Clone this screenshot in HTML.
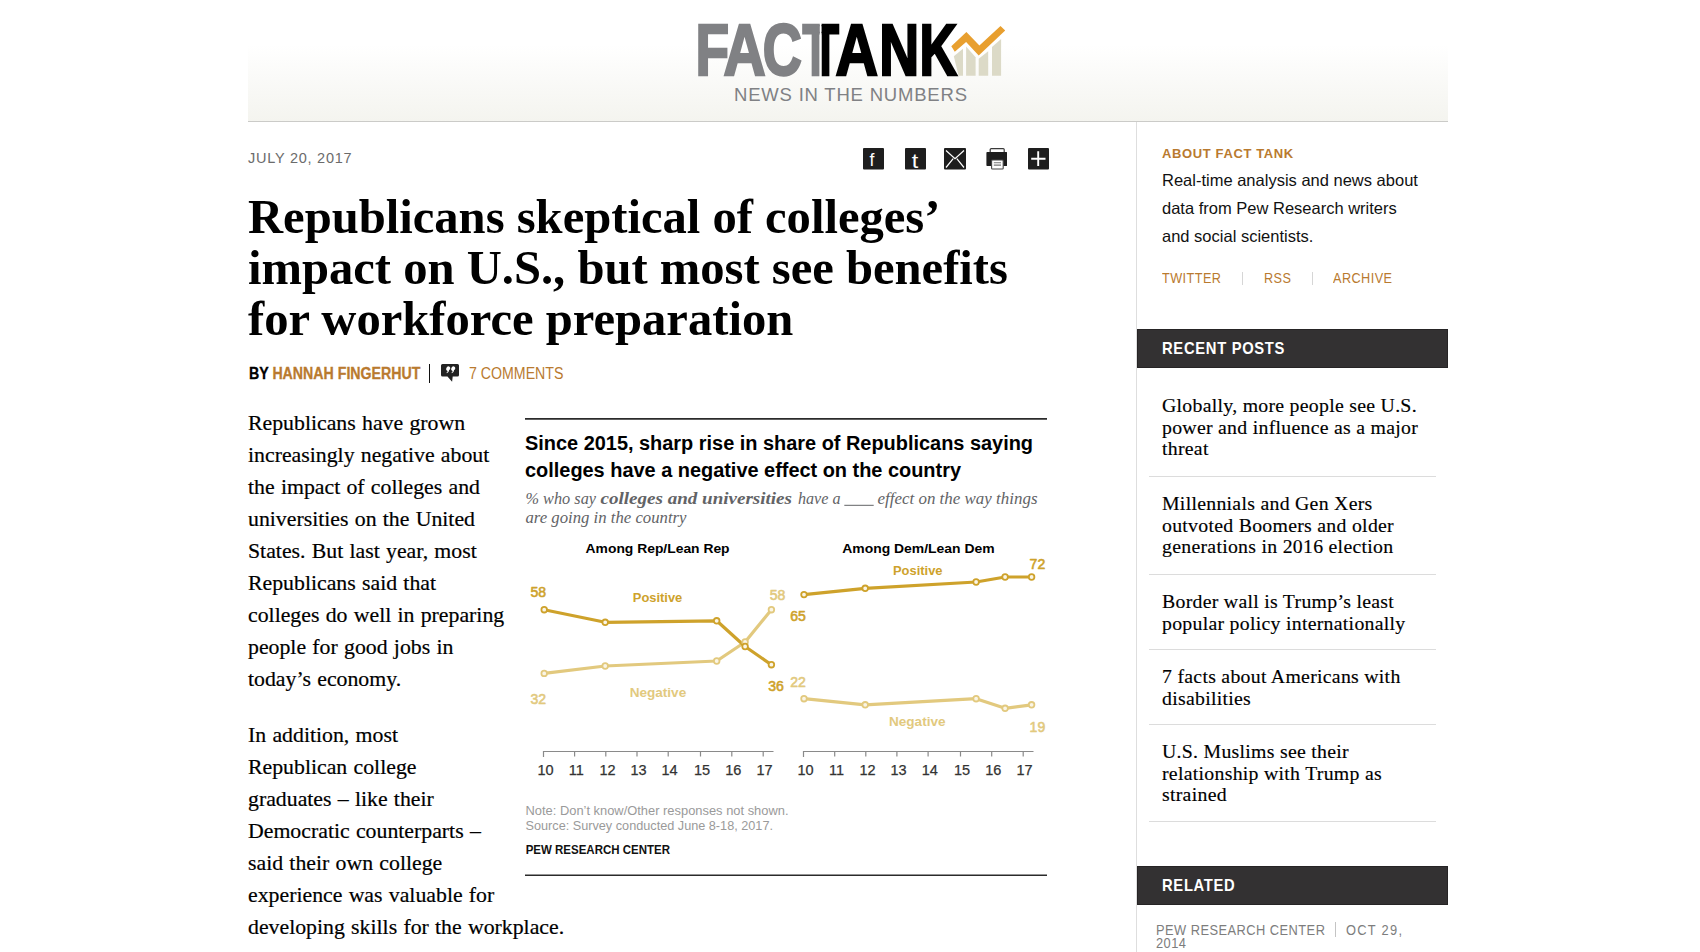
<!DOCTYPE html>
<html lang="en">
<head>
<meta charset="utf-8">
<title>Republicans skeptical of colleges’ impact on U.S., but most see benefits for workforce preparation | Pew Research Center</title>
<style>
html,body{margin:0;padding:0;background:#fff;}
body{width:1700px;height:952px;overflow:hidden;position:relative;font-family:"Liberation Sans",Arial,sans-serif;color:#000;}
.abs{position:absolute;white-space:nowrap;}
.serif{font-family:"Liberation Serif","Times New Roman",serif;}
#hdr{position:absolute;left:248px;top:0;width:1200px;height:121px;background:linear-gradient(to bottom,#ffffff 0%,#ffffff 37%,#f4f4ef 100%);border-bottom:1px solid #cbcbc8;}
#sideline{position:absolute;left:1136px;top:122px;width:1px;height:830px;background:#dedede;}
.gold{color:#b97a2f;}
.date{left:248px;top:148px;font-size:14.5px;letter-spacing:0.75px;color:#6b6b6b;line-height:20px;}
.icon{position:absolute;top:148.2px;width:21px;height:21.5px;}
h1{position:absolute;left:248px;top:191.8px;margin:0;font:bold 48.6px/51.3px "Liberation Serif",serif;color:#000;white-space:nowrap;}
.byline{left:249px;top:362.5px;font-size:16px;line-height:22px;font-weight:bold;transform:scaleX(0.886);transform-origin:0 0;-webkit-text-stroke:0.3px currentColor;}
.comments{left:468.5px;top:362.5px;font-size:16px;line-height:22px;transform:scaleX(0.885);transform-origin:0 0;}
.body{left:248px;font:21.8px/32px "Liberation Serif",serif;word-spacing:0.8px;color:#000;-webkit-text-stroke:0.2px #000;}
.side-h{left:1162px;top:145px;font-size:13px;font-weight:bold;letter-spacing:0.62px;line-height:18px;}
.side-p{left:1162px;top:166px;font-size:16.5px;line-height:28px;color:#111;}
.side-links{left:1162px;top:268.5px;font-size:14px;line-height:18px;letter-spacing:0.5px;transform:scaleX(0.905);transform-origin:0 0;}
.bar{position:absolute;left:1137px;width:309px;background:#333132;border:1px solid #262425;color:#fff;}
.bar span{position:absolute;left:23.8px;font-weight:bold;font-size:17px;letter-spacing:0.8px;line-height:20px;transform:scaleX(0.868);transform-origin:0 0;}
.rp{left:1162px;font:19.8px/21.6px "Liberation Serif",serif;letter-spacing:0.28px;color:#000;-webkit-text-stroke:0.15px #000;}
.rel{font-size:14px;letter-spacing:0.5px;line-height:17px;color:#7d7d7d;transform:scaleX(0.918);transform-origin:0 0;}
.sep{position:absolute;left:1149px;width:287px;height:1px;background:#dcdcdc;}
</style>
</head>
<body>
<div id="hdr"></div>
<div id="sideline"></div>

<!-- LOGO -->
<svg class="abs" style="left:0;top:0" width="1700" height="121" viewBox="0 0 1700 121">
  <defs>
    <clipPath id="cg"><rect x="790" y="0" width="29.8" height="121"/></clipPath>
    <clipPath id="cb"><rect x="821.6" y="0" width="40" height="121"/></clipPath>
  </defs>
  <g font-family="Liberation Sans, Arial, sans-serif" font-weight="bold" font-size="72.38" stroke-width="2.2" stroke-linejoin="miter">
    <text fill="#808184" stroke="#808184" vector-effect="non-scaling-stroke" transform="translate(695.42 74.90) scale(0.760 1)">F</text>
    <text fill="#808184" stroke="#808184" vector-effect="non-scaling-stroke" transform="translate(723.54 74.90) scale(0.807 1)">A</text>
    <text fill="#808184" stroke="#808184" vector-effect="non-scaling-stroke" transform="translate(762.78 74.90) scale(0.748 1)">C</text>
    <g clip-path="url(#cg)"><text fill="#808184" stroke="#808184" vector-effect="non-scaling-stroke" transform="translate(802.62 74.90) scale(0.591 1)">T</text></g>
    <g clip-path="url(#cb)"><text fill="#000" stroke="#000" vector-effect="non-scaling-stroke" transform="translate(811.80 74.90) scale(0.615 1)">T</text></g>
    <text fill="#000" stroke="#000" vector-effect="non-scaling-stroke" transform="translate(835.53 74.90) scale(0.813 1)">A</text>
    <text fill="#000" stroke="#000" vector-effect="non-scaling-stroke" transform="translate(879.20 74.90) scale(0.764 1)">N</text>
    <text fill="#000" stroke="#000" vector-effect="non-scaling-stroke" transform="translate(919.42 74.90) scale(0.719 1)">K</text>
  </g>
  <g fill="#dcdac7">
    <polygon points="953.8,56.3 963,48.7 963,75.8 958.6,75.8"/>
    <polygon points="966.1,46.5 975.6,57.2 975.6,75.8 966.1,75.8"/>
    <polygon points="978.7,58.8 988.2,51.2 988.2,75.8 978.7,75.8"/>
    <polygon points="992,47.1 1001.1,38.9 1001.1,75.8 992,75.8"/>
  </g>
  <polygon fill="#e89f2f" points="951.3,46.2 966.4,32 979.4,45.5 1000.5,26 1005.2,30.4 978.7,55.6 966.1,42.1 954.8,51.8"/>
  <text x="734" y="100.6" font-family="Liberation Sans, Arial, sans-serif" font-size="18.5" letter-spacing="0.8" fill="#808184">NEWS IN THE NUMBERS</text>
</svg>

<!-- DATE + SHARE -->
<div class="abs date">JULY 20, 2017</div>
<svg class="icon" style="left:863px" viewBox="0 0 21 21.5"><rect width="21" height="21.5" rx="1" fill="#1e1e1e"/><text x="6.6" y="18.4" font-family="Liberation Sans, Arial, sans-serif" font-size="17.5" fill="#fff">f</text></svg>
<svg class="icon" style="left:905px" viewBox="0 0 21 21.5"><rect width="21" height="21.5" rx="1" fill="#1e1e1e"/><text x="5.6" y="19.6" font-family="Liberation Sans, Arial, sans-serif" font-size="19.5" fill="#fff" transform="scale(1.2 1)">t</text></svg>
<svg class="icon" style="left:944px;width:22px" viewBox="0 0 22 21.5"><rect width="22" height="21.5" rx="1" fill="#1e1e1e"/><path d="M2 2.5 L11 10.8 L20 2.5 M2 19.5 L9.2 10.6 M20 19.5 L12.8 10.6" stroke="#fff" stroke-width="1.2" fill="none"/></svg>
<svg class="icon" style="left:986px" viewBox="0 0 21 21.5"><rect x="4.2" y="0.6" width="14" height="5" rx="1" fill="#fff" stroke="#3a3a3a" stroke-width="1.2"/><rect x="0.4" y="4" width="20.8" height="14" rx="0.8" fill="#1e1e1e"/><rect x="5.6" y="12" width="11.6" height="9" rx="0.8" fill="#fff" stroke="#444" stroke-width="1.1"/><path d="M7.8 14.8h7.2M7.8 17.1h7.2" stroke="#777" stroke-width="1.1"/></svg>
<svg class="icon" style="left:1028px" viewBox="0 0 21 21.5"><rect width="21" height="21.5" rx="1" fill="#1e1e1e"/><path d="M10.2 3.3 v14.8 M3.2 10.7 h14.3" stroke="#fff" stroke-width="1.9"/></svg>

<!-- HEADLINE -->
<h1>Republicans skeptical of colleges’<br>impact on U.S., but most see benefits<br>for workforce preparation</h1>

<div class="abs byline">BY <span class="gold">HANNAH FINGERHUT</span></div>
<div class="abs" style="left:429px;top:364px;width:1.3px;height:19px;background:#111;"></div>
<svg class="abs" style="left:441px;top:364px" width="19" height="19" viewBox="0 0 19 19"><path d="M1.5 0 h15 a1.5 1.5 0 0 1 1.5 1.5 v9.5 a1.5 1.5 0 0 1 -1.5 1.5 h-4.8 l-0.6 5.2 l-4.6 -5.2 h-5 a1.5 1.5 0 0 1 -1.5 -1.5 v-9.5 a1.5 1.5 0 0 1 1.5 -1.5z" fill="#222"/><path transform="translate(0.3 1.3)" d="M5.2 2.6 a1.9 1.9 0 1 1 2.6 2.1 c-0.2 1.5 -0.8 2.5 -2.2 3.2 l-0.4 -0.6 c0.7 -0.5 1 -1.1 1.1 -1.7 a1.9 1.9 0 0 1 -1.1 -3z M10.2 2.6 a1.9 1.9 0 1 1 2.6 2.1 c-0.2 1.5 -0.8 2.5 -2.2 3.2 l-0.4 -0.6 c0.7 -0.5 1 -1.1 1.1 -1.7 a1.9 1.9 0 0 1 -1.1 -3z" fill="#fff"/></svg>
<div class="abs comments gold">7 COMMENTS</div>

<!-- BODY -->
<div class="abs body" style="top:407px">Republicans have grown<br>increasingly negative about<br>the impact of colleges and<br>universities on the United<br>States. But last year, most<br>Republicans said that<br>colleges do well in preparing<br>people for good jobs in<br>today’s economy.</div>
<div class="abs body" style="top:719px">In addition, most<br>Republican college<br>graduates – like their<br>Democratic counterparts –<br>said their own college<br>experience was valuable for<br>developing skills for the workplace.</div>

<!-- CHART placeholder -->
<svg class="abs" style="left:515px;top:410px" width="545" height="475" viewBox="515 410 545 475">
  <line x1="525" y1="418.9" x2="1047" y2="418.9" stroke="#2b2b2b" stroke-width="1.6"/>
  <g font-family="Liberation Sans, Arial, sans-serif" font-weight="bold" font-size="20" fill="#000">
    <text x="525" y="450" textLength="508" lengthAdjust="spacingAndGlyphs">Since 2015, sharp rise in share of Republicans saying</text>
    <text x="525" y="476.5" textLength="436" lengthAdjust="spacingAndGlyphs">colleges have a negative effect on the country</text>
  </g>
  <g font-family="Liberation Serif, serif" font-style="italic" font-size="16.5" fill="#626366">
    <text x="525.5" y="504" textLength="70.5" lengthAdjust="spacingAndGlyphs">% who say</text>
    <text x="600.5" y="504" font-weight="bold" textLength="191.5" lengthAdjust="spacingAndGlyphs">colleges and universities</text>
    <text x="798" y="504" textLength="42.5" lengthAdjust="spacingAndGlyphs">have a</text>
    <line x1="844.3" y1="505.3" x2="873.7" y2="505.3" stroke="#626366" stroke-width="1"/>
    <text x="877.5" y="504" textLength="160" lengthAdjust="spacingAndGlyphs">effect on the way things</text>
    <text x="525.5" y="523.3" textLength="161" lengthAdjust="spacingAndGlyphs">are going in the country</text>
  </g>
  <g font-family="Liberation Sans, Arial, sans-serif" font-weight="bold" font-size="13" fill="#000">
    <text x="585.6" y="552.5" textLength="144" lengthAdjust="spacingAndGlyphs">Among Rep/Lean Rep</text>
    <text x="842.2" y="552.5" textLength="152.5" lengthAdjust="spacingAndGlyphs">Among Dem/Lean Dem</text>
  </g>
  <!-- axes -->
  <g stroke="#8a8a8a" stroke-width="1.2" fill="none">
    <path d="M543.5 757 V751.5 H773.5 M574.6 751.5 v5 M605.8 751.5 v5 M637 751.5 v5 M668.2 751.5 v5 M700.5 751.5 v5 M731.8 751.5 v5 M763.2 751.5 v5"/>
    <path d="M803.5 757 V751.5 H1033.5 M834.7 751.5 v5 M865.8 751.5 v5 M896.9 751.5 v5 M928.1 751.5 v5 M960.5 751.5 v5 M991.7 751.5 v5 M1023.2 751.5 v5"/>
  </g>
  <g font-family="Liberation Sans, Arial, sans-serif" font-size="14.5" fill="#333" stroke="#333" stroke-width="0.25" text-anchor="middle">
    <text x="545.6" y="774.7">10</text><text x="576.3" y="774.7">11</text><text x="607.6" y="774.7">12</text><text x="638.6" y="774.7">13</text><text x="669.6" y="774.7">14</text><text x="702.1" y="774.7">15</text><text x="733.3" y="774.7">16</text><text x="764.6" y="774.7">17</text>
    <text x="805.5" y="774.7">10</text><text x="836.6" y="774.7">11</text><text x="867.6" y="774.7">12</text><text x="898.6" y="774.7">13</text><text x="929.8" y="774.7">14</text><text x="962.1" y="774.7">15</text><text x="993.3" y="774.7">16</text><text x="1024.6" y="774.7">17</text>
  </g>
  <!-- lines -->
  <g fill="none" stroke-width="3.2" stroke-linejoin="round">
    <polyline stroke="#e2c97e" points="544.2,673.4 605.2,666 716.7,661 745.1,642 771.4,609.7"/>
    <polyline stroke="#cea22b" points="544.2,609.7 605.2,622.3 716.7,620.8 745.1,646.5 771.4,664.7"/>
    <polyline stroke="#cea22b" points="804,594.6 865.2,588.3 976.1,582 1005.1,577 1031.6,577"/>
    <polyline stroke="#e2c97e" points="804,698.7 865.2,704.8 976.1,698.7 1005.1,708.3 1031.6,704.8"/>
  </g>
  <g stroke-width="1.8" fill="#faf5e6">
    <g stroke="#e2c97e">
      <circle cx="544.2" cy="673.4" r="2.8"/><circle cx="605.2" cy="666" r="2.8"/><circle cx="716.7" cy="661" r="2.8"/><circle cx="745.1" cy="642" r="2.8"/><circle cx="771.4" cy="609.7" r="2.8"/>
      <circle cx="804" cy="698.7" r="2.8"/><circle cx="865.2" cy="704.8" r="2.8"/><circle cx="976.1" cy="698.7" r="2.8"/><circle cx="1005.1" cy="708.3" r="2.8"/><circle cx="1031.6" cy="704.8" r="2.8"/>
    </g>
    <g stroke="#cea22b">
      <circle cx="544.2" cy="609.7" r="2.8"/><circle cx="605.2" cy="622.3" r="2.8"/><circle cx="716.7" cy="620.8" r="2.8"/><circle cx="745.1" cy="646.5" r="2.8"/><circle cx="771.4" cy="664.7" r="2.8"/>
      <circle cx="804" cy="594.6" r="2.8"/><circle cx="865.2" cy="588.3" r="2.8"/><circle cx="976.1" cy="582" r="2.8"/><circle cx="1005.1" cy="577" r="2.8"/><circle cx="1031.6" cy="577" r="2.8"/>
    </g>
  </g>
  <!-- value labels -->
  <g font-family="Liberation Sans, Arial, sans-serif" font-size="14" stroke-width="0.6" stroke-linejoin="round">
    <g fill="#cea22b" stroke="#cea22b">
      <text x="530.5" y="596.6">58</text>
      <text x="768.3" y="690.6">36</text>
      <text x="790.2" y="621">65</text>
      <text x="1029.6" y="569">72</text>
    </g>
    <g fill="#e2c97e" stroke="#e2c97e">
      <text x="769.8" y="600">58</text>
      <text x="530.5" y="703.8">32</text>
      <text x="790.2" y="687">22</text>
      <text x="1029.6" y="732">19</text>
    </g>
  </g>
  <g font-family="Liberation Sans, Arial, sans-serif" font-weight="bold" font-size="13.5">
    <text x="632.8" y="601.6" fill="#cea22b" textLength="49.5" lengthAdjust="spacingAndGlyphs">Positive</text>
    <text x="629.7" y="697" fill="#e2c97e" textLength="56.5" lengthAdjust="spacingAndGlyphs">Negative</text>
    <text x="893" y="575" fill="#cea22b" textLength="49.5" lengthAdjust="spacingAndGlyphs">Positive</text>
    <text x="889" y="726" fill="#e2c97e" textLength="56.5" lengthAdjust="spacingAndGlyphs">Negative</text>
  </g>
  <g font-family="Liberation Sans, Arial, sans-serif" font-size="13" fill="#9a9a9a">
    <text x="525.5" y="814.8" textLength="263" lengthAdjust="spacingAndGlyphs">Note: Don’t know/Other responses not shown.</text>
    <text x="525.5" y="830.4" textLength="247.5" lengthAdjust="spacingAndGlyphs">Source: Survey conducted June 8-18, 2017.</text>
  </g>
  <text x="525.7" y="854.3" font-family="Liberation Sans, Arial, sans-serif" font-weight="bold" font-size="12" fill="#111" textLength="144.3" lengthAdjust="spacingAndGlyphs">PEW RESEARCH CENTER</text>
  <line x1="525" y1="875.2" x2="1047" y2="875.2" stroke="#2b2b2b" stroke-width="1.6"/>
</svg>


<!-- SIDEBAR -->
<div class="abs side-h gold">ABOUT FACT TANK</div>
<div class="abs side-p">Real-time analysis and news about<br>data from Pew Research writers<br>and social scientists.</div>
<div class="abs side-links gold">TWITTER</div>
<div class="abs" style="left:1242px;top:272px;width:1px;height:13px;background:#d6d6d6"></div>
<div class="abs side-links gold" style="left:1264px">RSS</div>
<div class="abs" style="left:1312px;top:272px;width:1px;height:13px;background:#d6d6d6"></div>
<div class="abs side-links gold" style="left:1333px">ARCHIVE</div>

<div class="bar" style="top:329px;height:37px"><span style="top:9px">RECENT POSTS</span></div>

<div class="abs rp" style="top:395px">Globally, more people see U.S.<br>power and influence as a major<br>threat</div>
<div class="sep" style="top:476px"></div>
<div class="abs rp" style="top:493px">Millennials and Gen Xers<br>outvoted Boomers and older<br>generations in 2016 election</div>
<div class="sep" style="top:574px"></div>
<div class="abs rp" style="top:591px">Border wall is Trump’s least<br>popular policy internationally</div>
<div class="sep" style="top:649px"></div>
<div class="abs rp" style="top:666px">7 facts about Americans with<br>disabilities</div>
<div class="sep" style="top:724px"></div>
<div class="abs rp" style="top:741px">U.S. Muslims see their<br>relationship with Trump as<br>strained</div>
<div class="sep" style="top:821px"></div>

<div class="bar" style="top:866px;height:37px"><span style="top:9px">RELATED</span></div>
<div class="abs rel" style="left:1156px;top:921.5px">PEW RESEARCH CENTER</div>
<div class="abs" style="left:1335px;top:921.5px;width:1px;height:15px;background:#c4c4c4"></div>
<div class="abs rel" style="left:1346px;top:921.5px;letter-spacing:1.4px">OCT 29,</div>
<div class="abs rel" style="left:1156px;top:934.5px">2014</div>
</body>
</html>
